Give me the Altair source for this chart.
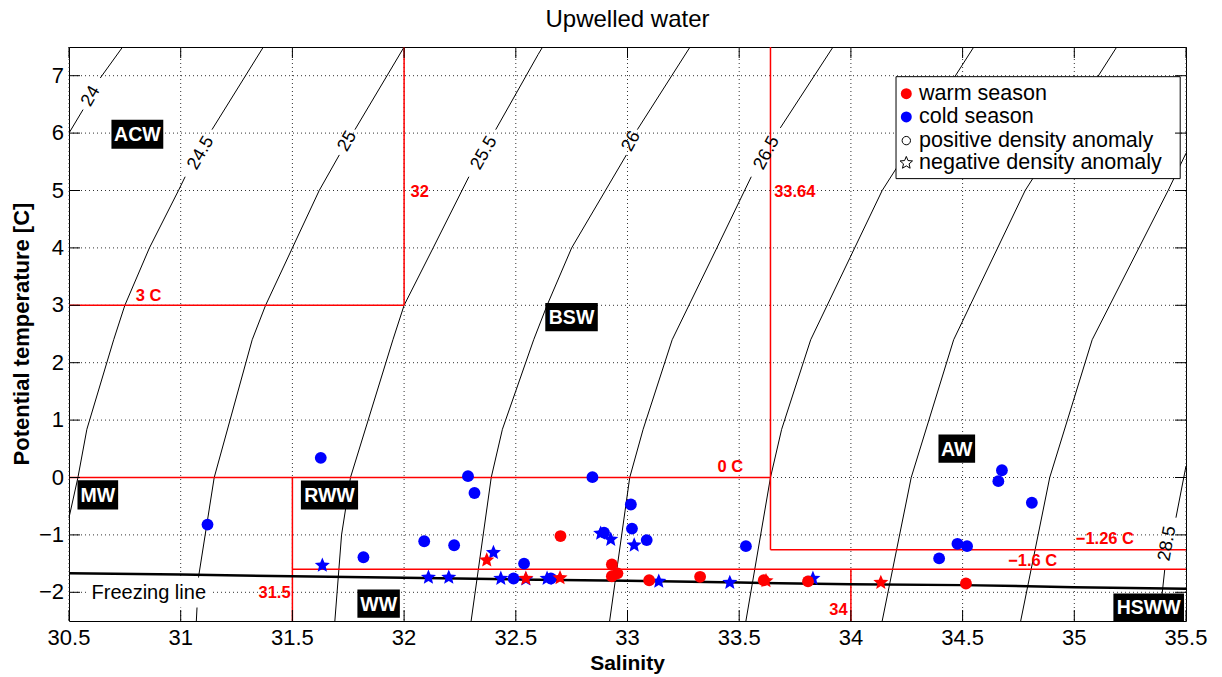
import math
import altair as alt
import pandas as pd

# ---------------- values ----------------
warm_pos_S = [32.70, 32.93, 32.93, 32.955, 33.097, 33.325, 33.61, 33.808, 34.515]
warm_pos_T = [-1.02, -1.515, -1.72, -1.67, -1.79, -1.73, -1.79, -1.81, -1.846]
warm_neg_S = [32.37, 32.545, 32.698, 33.62, 34.134]
warm_neg_T = [-1.44, -1.76, -1.75, -1.80, -1.83]
cold_pos_S = [31.12, 31.627, 31.818, 32.09, 32.224, 32.286, 32.315, 32.537, 32.49, 32.657,
              32.843, 32.895, 33.015, 33.02, 33.086, 33.53, 34.395, 34.477, 34.52, 34.66,
              34.676, 34.81]
cold_pos_T = [-0.82, 0.343, -1.39, -1.11, -1.18, 0.023, -0.27, -1.50, -1.76, -1.76,
              0.006, -0.96, -0.47, -0.89, -1.09, -1.196, -1.41, -1.155, -1.196, -0.064,
              0.127, -0.44]
cold_neg_S = [31.634, 32.109, 32.20, 32.40, 32.433, 32.545, 32.64, 32.88, 32.925, 33.03,
              33.14, 33.458, 33.83]
cold_neg_T = [-1.53, -1.74, -1.74, -1.31, -1.76, -1.77, -1.76, -0.975, -1.08, -1.18,
              -1.81, -1.83, -1.76]

iso_names = ["24a", "24b", "24.5a", "24.5b", "25a", "25b", "25.5a", "25.5b", "26a", "26b",
             "26.5a", "26.5b", "27", "27.5", "28", "28.5a", "28.5b"]
iso_S = [
    [30.50, 30.563], [30.64, 30.74],
    [30.50, 30.54, 30.58, 30.70, 30.75, 30.86, 30.99, 31.02], [31.14, 31.37],
    [31.07, 31.08, 31.15, 31.32, 31.38, 31.50, 31.62, 31.71], [31.78, 32.00],
    [31.69, 31.72, 31.76, 31.95, 32.00, 32.13, 32.29], [32.41, 32.60, 32.62],
    [32.30, 32.39, 32.44, 32.58, 32.64, 32.75, 32.995], [33.044, 33.28],
    [32.92, 33.01, 33.07, 33.20, 33.40, 33.554], [33.684, 33.92],
    [33.53, 33.64, 33.69, 33.82, 34.14, 34.55],
    [34.14, 34.27, 34.46, 34.78, 35.19],
    [34.76, 34.89, 35.08, 35.42, 35.50],
    [35.38, 35.405], [35.455, 35.50],
]
iso_T = [
    [6.00, 6.41], [6.96, 7.50],
    [-0.70, 0.00, 0.84, 2.40, 3.00, 4.00, 5.00, 5.24], [6.06, 7.50],
    [-2.50, -1.73, 0.00, 2.40, 3.00, 4.00, 5.00, 5.62], [6.06, 7.50],
    [-2.50, -1.00, 0.00, 2.40, 3.00, 4.00, 5.24], [6.06, 7.37, 7.50],
    [-2.50, 0.00, 0.84, 2.40, 3.00, 4.00, 5.62], [6.06, 7.50],
    [-2.50, 0.00, 0.84, 2.40, 4.00, 5.24], [6.09, 7.50],
    [-2.50, 0.00, 0.84, 2.40, 5.00, 7.50],
    [-2.50, 0.00, 2.40, 5.00, 7.50],
    [-2.50, 0.00, 2.40, 5.00, 5.65],
    [-2.50, -1.60], [-0.70, 0.20],
]
iso_label_text = ["24", "24.5", "25", "25.5", "26", "26.5", "28.5"]
iso_label_S = [30.598, 31.09, 31.746, 32.358, 33.017, 33.624, 35.417]
iso_label_T = [6.64, 5.654, 5.857, 5.654, 5.857, 5.654, -1.15]
iso_label_angle = [300, 300, 300, 300, 298, 298, 280]

frz_S = [30.5, 31.0, 31.5, 32.0, 32.5, 33.0, 33.5, 34.0, 34.5, 35.0, 35.5]
frz_T = [-1.67, -1.69, -1.72, -1.745, -1.775, -1.80, -1.83, -1.86, -1.875, -1.91, -1.94]

bnd_S1 = [30.5, 32.0, 30.5, 33.64, 33.64, 31.5, 31.5, 34.0]
bnd_T1 = [3.0, 3.0, 0.0, -1.26, -1.26, -2.5, -1.6, -2.5]
bnd_S2 = [32.0, 32.0, 33.64, 33.64, 35.5, 31.5, 35.5, 34.0]
bnd_T2 = [3.0, 7.5, 0.0, 7.5, -1.26, 0.0, -1.6, -1.6]
bnd_text = ["3 C", "32", "33.64", "0 C", "\u22121.26 C", "\u22121.6 C", "31.5", "34"]
bnd_text_S = [30.856, 32.07, 33.749, 33.46, 35.137, 34.814, 31.42, 33.944]
bnd_text_T = [3.16, 4.98, 4.975, 0.18, -1.066, -1.46, -2.01, -2.30]

wm_text = ["ACW", "MW", "RWW", "BSW", "AW", "WW", "HSWW"]
wm_S1 = [30.690, 30.538, 31.538, 32.632, 34.392, 31.791, 35.175]
wm_S2 = [30.922, 30.720, 31.794, 32.867, 34.556, 31.981, 35.491]
wm_T1 = [6.234, -0.047, -0.052, 3.042, 0.749, -1.950, -2.020]
wm_T2 = [5.729, -0.557, -0.557, 2.548, 0.256, -2.443, -2.500]

legend_text = ["warm season", "cold season", "positive density anomaly", "negative density anomaly"]
legend_T = [6.687, 6.281, 5.869, 5.480]

x_ticks = [30.5, 31, 31.5, 32, 32.5, 33, 33.5, 34, 34.5, 35, 35.5]
x_tick_labels = ["30.5", "31", "31.5", "32", "32.5", "33", "33.5", "34", "34.5", "35", "35.5"]
y_ticks = [-2, -1, 0, 1, 2, 3, 4, 5, 6, 7]
y_tick_labels = ["\u22122", "\u22121", "0", "1", "2", "3", "4", "5", "6", "7"]

# ---------------- chart ----------------
W, H = 1117, 574
FONT = "Liberation Sans"
xs = alt.Scale(domain=[30.5, 35.5], nice=False, zero=False)
ys = alt.Scale(domain=[-2.5, 7.5], nice=False, zero=False)

# five-pointed star symbol (Vega has no built-in star), unit outer radius
_pts = []
for k in range(10):
    r = 1.0 if k % 2 == 0 else 0.45
    a = math.radians(-90 + 36 * k)
    _pts.append(f"{r * math.cos(a):.4f},{r * math.sin(a):.4f}")
STAR = "M" + "L".join(_pts) + "Z"


def X(field="S"):
    return alt.X(f"{field}:Q", scale=xs, axis=None)


def Y(field="T"):
    return alt.Y(f"{field}:Q", scale=ys, axis=None)


xt = pd.DataFrame({"S": x_ticks, "lab": x_tick_labels})
yt = pd.DataFrame({"T": y_ticks, "lab": y_tick_labels})

# dotted grid
grid_x = alt.Chart(xt).mark_rule(color="#333333", strokeWidth=1, strokeDash=[1, 3]).encode(
    x=X(), y=alt.value(0), y2=alt.value(H))
grid_y = alt.Chart(yt).mark_rule(color="#333333", strokeWidth=1, strokeDash=[1, 3]).encode(
    y=Y(), x=alt.value(0), x2=alt.value(W))

# tick labels and axis titles (placed through the same scales)
x_lab = alt.Chart(xt).mark_text(font=FONT, fontSize=22, color="black", align="center",
                                baseline="middle").encode(x=X(), y=alt.value(H + 17), text="lab:N")
y_lab = alt.Chart(yt).mark_text(font=FONT, fontSize=22, color="black", align="right",
                                baseline="middle").encode(y=Y(), x=alt.value(-5), text="lab:N")
x_title = alt.Chart(pd.DataFrame({"t": ["Salinity"]})).mark_text(
    font=FONT, fontSize=21, fontWeight="bold", color="black", align="center", baseline="middle"
).encode(x=alt.value(W / 2), y=alt.value(H + 43), text="t:N")
y_title = alt.Chart(pd.DataFrame({"t": ["Potential temperature [C]"]})).mark_text(
    font=FONT, fontSize=22, fontWeight="bold", color="black", align="center", baseline="middle",
    angle=270
).encode(x=alt.value(-47), y=alt.value(H / 2), text="t:N")

iso_rows = []
for name, ss, tt in zip(iso_names, iso_S, iso_T):
    for s, t in zip(ss, tt):
        iso_rows.append({"seg": name, "S": s, "T": t})
iso_df = pd.DataFrame(iso_rows)

iso_lines = alt.Chart(iso_df).mark_line(color="black", strokeWidth=1).encode(
    x=X(), y=Y(), detail="seg:N")

frz_bg = alt.Chart(pd.DataFrame({"S": [30.58], "S2": [31.135], "T": [-1.741], "T2": [-2.264]})).mark_rect(
    color="white").encode(x=X(), x2="S2:Q", y=Y(), y2="T2:Q")

bnd_df = pd.DataFrame({"S": bnd_S1, "T": bnd_T1, "S2": bnd_S2, "T2": bnd_T2})
bounds = alt.Chart(bnd_df).mark_rule(color="#ff0000", strokeWidth=1.5).encode(
    x=X(), y=Y(), x2="S2:Q", y2="T2:Q")

frz = alt.Chart(pd.DataFrame({"S": frz_S, "T": frz_T})).mark_line(
    color="black", strokeWidth=2.5).encode(x=X(), y=Y())


def pts(S, T, color, shape, size):
    return alt.Chart(pd.DataFrame({"S": S, "T": T})).mark_point(
        filled=True, color=color, shape=shape, size=size, opacity=1
    ).encode(x=X(), y=Y())


cold_neg = pts(cold_neg_S, cold_neg_T, "#0000ff", STAR, 250)
cold_pos = pts(cold_pos_S, cold_pos_T, "#0000ff", "circle", 140)
warm_neg = pts(warm_neg_S, warm_neg_T, "#ff0000", STAR, 250)
warm_pos = pts(warm_pos_S, warm_pos_T, "#ff0000", "circle", 140)

bnd_lab = alt.Chart(pd.DataFrame({"S": bnd_text_S, "T": bnd_text_T, "txt": bnd_text})).mark_text(
    color="#ff0000", font=FONT, fontSize=16.5, fontWeight="bold", align="center", baseline="middle"
).encode(x=X(), y=Y(), text="txt:N")

iso_lab_layers = []
for txt, s, t, a in zip(iso_label_text, iso_label_S, iso_label_T, iso_label_angle):
    iso_lab_layers.append(
        alt.Chart(pd.DataFrame({"S": [s], "T": [t], "txt": [txt]})).mark_text(
            color="black", font=FONT, fontSize=18, align="center", baseline="middle", angle=a
        ).encode(x=X(), y=Y(), text="txt:N"))

wm_df = pd.DataFrame({"S": wm_S1, "S2": wm_S2, "T": wm_T1, "T2": wm_T2, "txt": wm_text})
wm_df["Sc"] = (wm_df["S"] + wm_df["S2"]) / 2
wm_df["Tc"] = (wm_df["T"] + wm_df["T2"]) / 2
wm_box = alt.Chart(wm_df).mark_rect(color="black").encode(x=X(), x2="S2:Q", y=Y(), y2="T2:Q")
wm_lab = alt.Chart(wm_df).mark_text(color="white", font=FONT, fontSize=19.5, fontWeight="bold",
                                    align="center", baseline="middle", dy=1).encode(
    x=X("Sc"), y=Y("Tc"), text="txt:N")

frz_txt = alt.Chart(pd.DataFrame({"S": [30.857], "T": [-2.01], "txt": ["Freezing line"]})).mark_text(
    color="black", font=FONT, fontSize=20, align="center", baseline="middle").encode(
    x=X(), y=Y(), text="txt:N")

leg_box = alt.Chart(pd.DataFrame({"S": [34.202], "S2": [35.474], "T": [6.983], "T2": [5.207]})).mark_rect(
    fill="white", stroke="black", strokeWidth=1).encode(x=X(), x2="S2:Q", y=Y(), y2="T2:Q")
leg_sym_S = 34.248


def leg_sym(t, color, shape, size, filled):
    return alt.Chart(pd.DataFrame({"S": [leg_sym_S], "T": [t]})).mark_point(
        filled=filled, color=color, shape=shape, size=size, opacity=1, strokeWidth=1
    ).encode(x=X(), y=Y())


leg_warm = leg_sym(legend_T[0], "#ff0000", "circle", 120, True)
leg_cold = leg_sym(legend_T[1], "#0000ff", "circle", 120, True)
leg_pos = leg_sym(legend_T[2], "black", "circle", 70, False)
leg_neg = leg_sym(legend_T[3], "black", STAR, 170, False)
leg_txt = alt.Chart(pd.DataFrame({"S": [34.305] * 4, "T": legend_T, "txt": legend_text})).mark_text(
    color="black", font=FONT, fontSize=21.5, align="left", baseline="middle").encode(
    x=X(), y=Y(), text="txt:N")

TL = 11
tick_b = alt.Chart(xt).mark_rule(color="black", strokeWidth=1).encode(
    x=X(), y=alt.value(H), y2=alt.value(H - TL))
tick_t = alt.Chart(xt).mark_rule(color="black", strokeWidth=1).encode(
    x=X(), y=alt.value(0), y2=alt.value(TL))
tick_l = alt.Chart(yt).mark_rule(color="black", strokeWidth=1).encode(
    y=Y(), x=alt.value(0), x2=alt.value(TL))
tick_r = alt.Chart(yt).mark_rule(color="black", strokeWidth=1).encode(
    y=Y(), x=alt.value(W), x2=alt.value(W - TL))

chart = alt.layer(
    grid_x, grid_y, iso_lines, frz_bg, bounds, frz, cold_neg, cold_pos, warm_neg, warm_pos,
    bnd_lab, *iso_lab_layers, wm_box, wm_lab, frz_txt,
    leg_box, leg_warm, leg_cold, leg_pos, leg_neg, leg_txt,
    tick_b, tick_t, tick_l, tick_r, x_lab, y_lab, x_title, y_title,
).properties(
    width=W, height=H,
    title=alt.Title("Upwelled water", fontSize=24, font=FONT, fontWeight="normal", color="black",
                    anchor="middle", offset=13),
    autosize=alt.AutoSizeParams(type="none"),
    padding={"left": 69, "top": 47, "right": 36, "bottom": 56},
    background="white",
).configure_view(stroke="black", strokeWidth=1)

chart.save("out.html", embed_options={"renderer": "svg", "actions": False})
